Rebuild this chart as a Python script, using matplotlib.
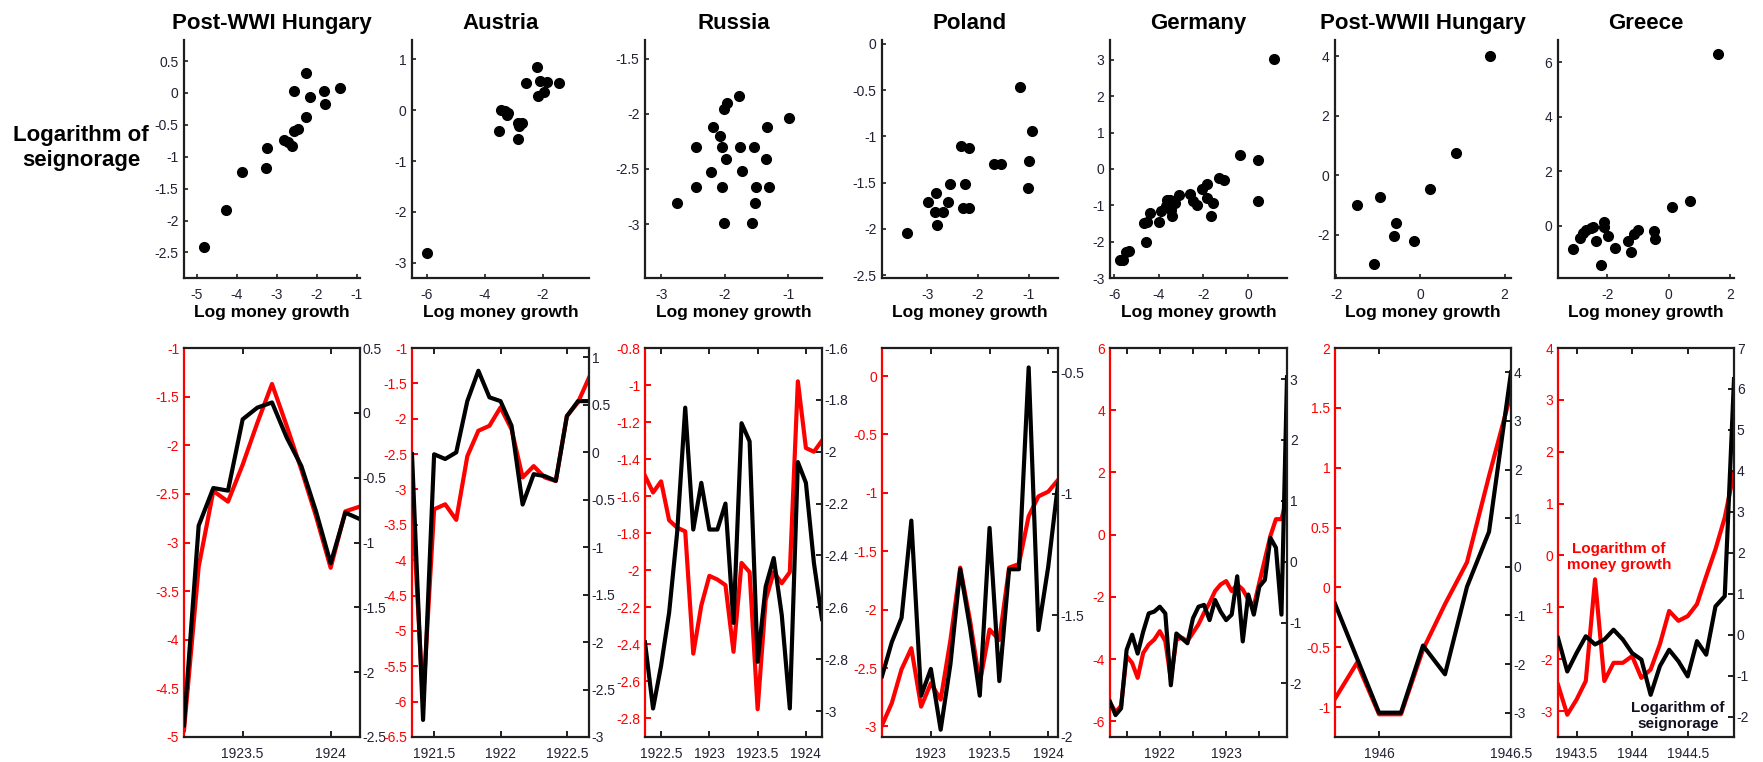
import matplotlib
matplotlib.use('Agg')
import matplotlib.pyplot as plt
from matplotlib.ticker import FuncFormatter

plt.rcParams['font.family'] = ['Liberation Sans', 'DejaVu Sans']
plt.rcParams['axes.unicode_minus'] = False

# ---------------- data ----------------
countries = ['Post-WWI Hungary', 'Austria', 'Russia', 'Poland',
             'Germany', 'Post-WWII Hungary', 'Greece']

# scatter: log money growth (x) vs log seignorage (y)
hun1_sc_x = [-4.82, -4.27, -3.86, -3.25, -3.26, -2.81, -2.71, -2.61, -2.56, -2.46, -2.56, -2.28, -2.28, -2.18, -1.81, -1.79, -1.41]
hun1_sc_y = [-2.41, -1.83, -1.24, -0.86, -1.17, -0.73, -0.77, -0.83, -0.60, -0.57, 0.03, 0.31, -0.38, -0.06, 0.03, -0.18, 0.08]
aus_sc_x = [-5.98, -3.52, -3.45, -3.30, -3.20, -3.23, -2.86, -2.86, -2.71, -2.83, -2.57, -2.19, -2.11, -2.15, -1.96, -1.84, -1.45]
aus_sc_y = [-2.81, -0.41, 0.01, -0.01, -0.05, -0.10, -0.56, -0.26, -0.25, -0.31, 0.54, 0.85, 0.58, 0.28, 0.35, 0.55, 0.54]
rus_sc_x = [-2.75, -2.45, -2.45, -2.22, -2.19, -2.08, -2.05, -2.05, -2.02, -1.96, -1.98, -2.01, -1.78, -1.77, -1.73, -1.54, -1.51, -1.52, -1.58, -1.35, -1.33, -1.30, -0.99]
rus_sc_y = [-2.81, -2.30, -2.66, -2.53, -2.12, -2.20, -2.30, -2.66, -1.96, -1.90, -2.41, -2.99, -1.84, -2.30, -2.52, -2.30, -2.66, -2.81, -2.99, -2.41, -2.12, -2.66, -2.04]
pol_sc_x = [-3.40, -2.98, -2.83, -2.85, -2.68, -2.80, -2.58, -2.55, -2.34, -2.18, -2.25, -2.29, -2.18, -1.68, -1.55, -1.16, -0.93, -1.00, -1.02]
pol_sc_y = [-2.04, -1.71, -1.61, -1.82, -1.82, -1.96, -1.71, -1.51, -1.10, -1.13, -1.51, -1.77, -1.77, -1.30, -1.30, -0.47, -0.94, -1.27, -1.56]
ger_sc_x = [-5.75, -5.60, -5.45, -5.34, -4.58, -4.67, -4.52, -4.40, -3.98, -3.92, -3.68, -3.62, -3.50, -3.42, -3.45, -3.27, -3.08, -2.60, -2.48, -2.30, -2.07, -1.85, -1.85, -1.58, -1.67, -1.32, -1.07, -0.38, 0.43, 0.45, 1.17]
ger_sc_y = [-2.51, -2.51, -2.29, -2.27, -2.02, -1.49, -1.46, -1.21, -1.46, -1.15, -1.03, -0.86, -0.86, -1.30, -1.12, -0.94, -0.72, -0.68, -0.89, -0.98, -0.55, -0.40, -0.80, -0.94, -1.28, -0.25, -0.31, 0.39, 0.26, -0.88, 3.03]
hun2_sc_x = [-1.50, -1.10, -0.95, -0.59, -0.64, -0.15, 0.22, 0.85, 1.64]
hun2_sc_y = [-1.02, -3.00, -0.74, -1.61, -2.04, -2.20, -0.46, 0.73, 4.01]
gre_sc_x = [-3.12, -2.88, -2.79, -2.69, -2.52, -2.45, -2.36, -2.21, -2.12, -2.12, -1.96, -1.76, -1.33, -1.24, -1.12, -1.01, -0.48, -0.46, 0.12, 0.69, 1.61]
gre_sc_y = [-0.88, -0.45, -0.26, -0.17, -0.09, -0.05, -0.58, -1.47, 0.13, -0.05, -0.39, -0.81, -0.58, -0.98, -0.33, -0.17, -0.20, -0.49, 0.69, 0.90, 6.29]

# time series (monthly): first month of each series, log money growth (red), log seignorage (black)
start_month = [(1923, 3), (1921, 5), (1922, 5), (1922, 8), (1921, 4), (1945, 11), (1943, 5)]
hun1_mg = [-4.93, -3.25, -2.47, -2.58, -2.20, -1.77, -1.37, -1.80, -2.25, -2.73, -3.26, -2.68, -2.63]
hun1_sg = [-2.41, -0.87, -0.58, -0.60, -0.05, 0.04, 0.08, -0.19, -0.41, -0.76, -1.16, -0.77, -0.82]
aus_mg = [-3.12, -5.98, -3.28, -3.21, -3.43, -2.53, -2.17, -2.10, -1.84, -2.15, -2.83, -2.67, -2.83, -2.88, -1.96, -1.77, -1.42]
aus_sg = [-0.02, -2.82, -0.02, -0.07, 0.00, 0.54, 0.86, 0.58, 0.54, 0.28, -0.55, -0.23, -0.25, -0.30, 0.38, 0.54, 0.54]
rus_mg = [-1.49, -1.58, -1.52, -1.73, -1.77, -1.79, -2.45, -2.19, -2.03, -2.05, -2.08, -2.44, -1.96, -2.01, -2.75, -2.16, -2.01, -2.07, -2.01, -0.98, -1.34, -1.36, -1.30]
rus_sg = [-2.735, -2.99, -2.825, -2.62, -2.31, -1.83, -2.30, -2.12, -2.30, -2.30, -2.20, -2.66, -1.89, -1.96, -2.81, -2.52, -2.41, -2.63, -2.99, -2.04, -2.12, -2.43, -2.645]
pol_mg = [-2.99, -2.80, -2.51, -2.33, -2.83, -2.63, -2.77, -2.26, -1.64, -2.09, -2.63, -2.17, -2.26, -1.64, -1.61, -1.20, -1.03, -0.99, -0.89]
pol_sg = [-1.75, -1.61, -1.51, -1.11, -1.83, -1.72, -1.97, -1.70, -1.31, -1.55, -1.83, -1.14, -1.77, -1.31, -1.31, -0.48, -1.56, -1.30, -0.96]
ger_mg = [-5.40, -5.70, -5.50, -3.90, -4.12, -4.60, -3.80, -3.53, -3.37, -3.10, -3.42, -4.65, -3.37, -3.31, -3.42, -3.15, -2.88,
          -2.51, -2.19, -1.81, -1.60, -1.49, -1.81, -1.60, -1.76, -2.08, -2.29, -1.54, -0.79, -0.04, 0.50, 0.50, 1.19]
ger_sg = [-2.30, -2.52, -2.41, -1.45, -1.20, -1.51, -1.15, -0.85, -0.82, -0.74, -0.85, -2.03, -1.18, -1.26, -1.34, -0.93, -0.74,
          -0.71, -0.96, -0.63, -0.82, -0.96, -0.87, -0.24, -1.31, -0.54, -0.87, -0.41, -0.30, 0.39, 0.23, -0.87, 3.03]
hun2_mg = [-0.93, -0.63, -1.06, -1.06, -0.52, -0.14, 0.21, 0.93, 1.62]
hun2_sg = [-0.76, -1.88, -3.00, -3.00, -1.62, -2.21, -0.41, 0.72, 4.00]
gre_mg = [-2.49, -3.07, -2.78, -2.42, -0.46, -2.42, -2.07, -2.07, -1.94, -2.36, -2.20, -1.71, -1.07, -1.26, -1.17, -0.94, -0.40, 0.12, 0.73, 1.60]
gre_sg = [-0.08, -0.90, -0.45, -0.04, -0.24, -0.12, 0.12, -0.12, -0.45, -0.61, -1.47, -0.77, -0.37, -0.65, -1.02, -0.16, -0.49, 0.69, 0.94, 6.24]

scatter_x = [hun1_sc_x, aus_sc_x, rus_sc_x, pol_sc_x, ger_sc_x, hun2_sc_x, gre_sc_x]
scatter_y = [hun1_sc_y, aus_sc_y, rus_sc_y, pol_sc_y, ger_sc_y, hun2_sc_y, gre_sc_y]
series_mg = [hun1_mg, aus_mg, rus_mg, pol_mg, ger_mg, hun2_mg, gre_mg]
series_sg = [hun1_sg, aus_sg, rus_sg, pol_sg, ger_sg, hun2_sg, gre_sg]

# axis ticks
sc_xticks = [[-5, -4, -3, -2, -1], [-6, -4, -2], [-3, -2, -1], [-3, -2, -1], [-6, -4, -2, 0], [-2, 0, 2], [-2, 0, 2]]
sc_yticks = [[-2.5, -2, -1.5, -1, -0.5, 0, 0.5], [-3, -2, -1, 0, 1], [-3, -2.5, -2, -1.5],
             [-2.5, -2, -1.5, -1, -0.5, 0], [-3, -2, -1, 0, 1, 2, 3], [-2, 0, 2, 4], [0, 2, 4, 6]]
ts_xticks = [[1923.5, 1924], [1921.5, 1922, 1922.5], [1922.5, 1923, 1923.5, 1924], [1923, 1923.5, 1924],
             [1921.5, 1922, 1922.5, 1923, 1923.5], [1946, 1946.5], [1943.5, 1944, 1944.5]]
ts_xticklabels = [['1923.5', '1924'], ['1921.5', '1922', '1922.5'], ['1922.5', '1923', '1923.5', '1924'],
                  ['1923', '1923.5', '1924'], ['', '1922', '', '1923', ''], ['1946', '1946.5'],
                  ['1943.5', '1944', '1944.5']]
red_ticks = [[-5, -4.5, -4, -3.5, -3, -2.5, -2, -1.5, -1],
             [-6.5, -6, -5.5, -5, -4.5, -4, -3.5, -3, -2.5, -2, -1.5, -1],
             [-2.8, -2.6, -2.4, -2.2, -2, -1.8, -1.6, -1.4, -1.2, -1, -0.8],
             [-3, -2.5, -2, -1.5, -1, -0.5, 0],
             [-6, -4, -2, 0, 2, 4, 6],
             [-1, -0.5, 0, 0.5, 1, 1.5, 2],
             [-3, -2, -1, 0, 1, 2, 3, 4]]
blk_ticks = [[-2.5, -2, -1.5, -1, -0.5, 0, 0.5],
             [-3, -2.5, -2, -1.5, -1, -0.5, 0, 0.5, 1],
             [-3, -2.8, -2.6, -2.4, -2.2, -2, -1.8, -1.6],
             [-2, -1.5, -1, -0.5],
             [-2, -1, 0, 1, 2, 3],
             [-3, -2, -1, 0, 1, 2, 3, 4],
             [-2, -1, 0, 1, 2, 3, 4, 5, 6, 7]]

# ---------------- layout (pixels) ----------------
W, H = 1763, 762
sc_lims_x = [(-5.32, -0.92), (-6.5, -0.41), (-3.26, -0.47), (-3.89, -0.42), (-6.19, 1.75), (-2.03, 2.15), (-3.6, 2.12)]
sc_lims_y = [(-2.9, 0.83), (-3.3, 1.38), (-3.49, -1.33), (-2.53, 0.04), (-3.0, 3.55), (-3.46, 4.54), (-1.93, 6.82)]
red_lims = [(-5, -1), (-6.5, -1), (-2.9, -0.8), (-3.09, 0.24), (-6.5, 6), (-1.25, 2), (-3.5, 4)]
blk_lims = [(-2.5, 0.5), (-3, 1.1), (-3.1, -1.6), (-2, -0.4), (-2.88, 3.51), (-3.5, 4.5), (-2.5, 7)]
col_x = [(184, 360), (412, 589), (645, 822), (882, 1058), (1110, 1287), (1335, 1511), (1558, 1734)]
TOP_Y = (40, 278)
BOT_Y = (348, 737)


def rect(x0, x1, y0, y1):
    return [x0 / W, 1 - y1 / H, (x1 - x0) / W, (y1 - y0) / H]


fmt = FuncFormatter(lambda v, p: f'{v:g}')
TICKCOL = '#222233'
SPINE = '#1e1e1e'

fig = plt.figure(figsize=(W / 100, H / 100), dpi=100)

# ---------------- top row: scatter ----------------
for i, name in enumerate(countries):
    ax = fig.add_axes(rect(*col_x[i], *TOP_Y))
    ax.plot(scatter_x[i], scatter_y[i], 'o', color='black', ms=7, ls='none')
    ax.set_xlim(*sc_lims_x[i])
    ax.set_ylim(*sc_lims_y[i])
    ax.set_xticks(sc_xticks[i])
    ax.set_yticks(sc_yticks[i])
    ax.xaxis.set_major_formatter(fmt)
    ax.yaxis.set_major_formatter(fmt)
    for s in ['top', 'right']:
        ax.spines[s].set_visible(False)
    for s in ['left', 'bottom']:
        ax.spines[s].set_linewidth(1.6)
        ax.spines[s].set_color(SPINE)
    ax.tick_params(axis='both', direction='in', length=3, width=1.2, labelsize=10,
                   colors=SPINE, labelcolor=TICKCOL)
    ax.tick_params(axis='x', pad=7)
    ax.tick_params(axis='y', pad=4)
    ax.set_title(name, fontsize=16, fontweight='bold', pad=8)
    ax.set_xlabel('Log money growth', fontsize=12.5, fontweight='bold', labelpad=2)

# ---------------- bottom row: time series ----------------
for i, name in enumerate(countries):
    y0, m0 = start_month[i]
    n = len(series_mg[i])
    t = [y0 + (m0 - 1 + k) / 12.0 for k in range(n)]
    ax = fig.add_axes(rect(*col_x[i], *BOT_Y))
    ax.plot(t, series_mg[i], color='#ff0000', lw=3, solid_joinstyle='round')
    ax2 = ax.twinx()
    ax2.plot(t, series_sg[i], color='black', lw=3, solid_joinstyle='round')
    ax.set_xlim(t[0], t[-1])
    ax.set_ylim(*red_lims[i])
    ax2.set_ylim(*blk_lims[i])
    ax.set_xticks(ts_xticks[i])
    ax.set_xticklabels(ts_xticklabels[i])
    ax.set_yticks(red_ticks[i])
    ax2.set_yticks(blk_ticks[i])
    ax.yaxis.set_major_formatter(fmt)
    ax2.yaxis.set_major_formatter(fmt)
    ax.spines['left'].set_color('#ff0000')
    ax.spines['right'].set_visible(False)
    for s in ['top', 'bottom']:
        ax.spines[s].set_color(SPINE)
    for s in ['left', 'top', 'bottom']:
        ax2.spines[s].set_visible(False)
    ax2.spines['right'].set_color(SPINE)
    for s in ax.spines.values():
        s.set_linewidth(1.6)
    ax2.spines['right'].set_linewidth(1.6)
    ax.tick_params(axis='x', direction='in', top=True, length=4, width=1.4, labelsize=10,
                   colors=SPINE, labelcolor=TICKCOL, pad=7)
    ax.tick_params(axis='y', direction='in', length=4, width=1.4, labelsize=10,
                   colors='#ff0000', pad=3.5)
    ax2.tick_params(axis='y', direction='in', length=4, width=1.4, labelsize=10,
                    colors=SPINE, labelcolor=TICKCOL, pad=2)

# ---------------- texts ----------------
fig.text(81 / W, 1 - 148 / H, 'Logarithm of\nseignorage', ha='center', va='center',
         fontsize=16, fontweight='bold', linespacing=1.2)
fig.text(1619 / W, 1 - 557 / H, 'Logarithm of\nmoney growth', ha='center', va='center',
         fontsize=11, fontweight='bold', color='#ff0000', linespacing=1.15)
fig.text(1678 / W, 1 - 716 / H, 'Logarithm of\nseignorage', ha='center', va='center',
         fontsize=11, fontweight='bold', color='#111122', linespacing=1.15)

fig.savefig('out.png', dpi=100)
